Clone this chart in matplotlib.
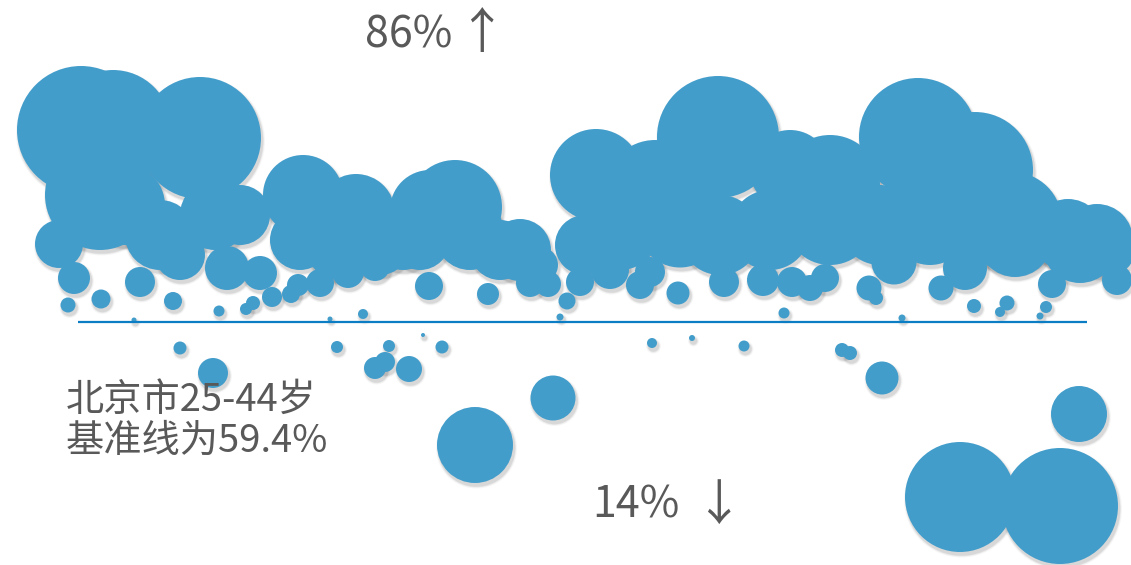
import numpy as np
from matplotlib import pyplot as plt
from matplotlib import transforms

plt.rcParams['font.family'] = ['Noto Sans CJK SC', 'DejaVu Sans']

# 每个气泡: 横向位置, 占比(%), 气泡直径
x_vals = [8.1, 11.3, 20.0, 10.0, 12.5, 16.0, 21.5, 24.0, 5.9, 7.4, 14.0, 18.0, 22.7, 26.0, 27.2,
          6.8, 10.1, 17.3, 21.9, 24.6, 25.3, 13.4,
          30.3, 35.6, 40.3, 43.0, 45.5, 52.0, 54.0, 30.0, 34.0, 38.0, 42.0, 47.0, 50.0,
          29.1, 29.8, 32.0, 34.8, 37.5, 42.9, 48.8, 53.0, 54.8, 36.3, 33.0,
          59.6, 65.5, 71.8, 79.0, 83.0, 91.8, 97.5, 101.2, 106.8, 109.7,
          58.5, 62.0, 68.0, 72.0, 77.0, 83.0, 88.0, 93.0, 96.5, 101.5, 108.0, 111.0,
          58.0, 61.0, 64.0, 65.0, 67.8, 72.4, 76.3, 79.2, 81.0, 82.5, 89.4, 86.9, 87.6,
          94.1, 96.5, 105.2, 111.7, 56.7, 56.0, 78.4, 90.2, 97.4, 100.7, 100.0, 104.6, 104.0,
          18.0, 21.3, 33.7, 37.5, 38.5, 38.9, 40.9, 42.3, 44.2, 47.5, 55.3,
          65.2, 69.2, 74.4, 84.2, 85.0, 88.2, 107.9, 96.0, 106.0]
y_vals = [78.6, 78.8, 77.8, 72.1, 71.1, 68.1, 70.1, 70.1, 67.2, 63.8, 63.4, 66.1, 64.8, 64.3, 61.9,
          61.1, 61.7, 61.5, 60.5, 60.7, 61.3, 59.6,
          72.1, 70.3, 67.9, 70.6, 70.9, 66.6, 65.1, 67.6, 67.1, 67.1, 67.6, 68.1, 66.6,
          62.2, 63.1, 63.3, 64.4, 65.0, 63.0, 62.2, 63.3, 63.2, 60.2, 59.7,
          74.1, 72.6, 77.9, 74.6, 73.1, 77.9, 74.6, 69.4, 68.1, 67.6,
          67.1, 68.6, 69.1, 68.1, 68.6, 69.6, 69.1, 69.1, 68.6, 67.6, 67.1, 66.6,
          63.4, 64.6, 63.1, 64.4, 62.3, 63.4, 63.6, 63.4, 62.8, 63.8, 65.4, 62.8, 61.8,
          62.8, 64.8, 63.2, 63.6, 61.5, 59.9, 60.3, 59.8, 61.0, 61.3, 60.4, 60.9, 60.0,
          56.8, 54.3, 56.9, 54.8, 55.4, 57.0, 54.7, 58.1, 56.9, 47.1, 51.8,
          57.3, 57.8, 57.0, 56.6, 56.3, 53.8, 50.2, 41.9, 41.0]
sizes = [128, 116, 122, 110, 80, 70, 70, 60, 48, 32, 30, 50, 44, 34, 20,
         15, 19, 18, 11, 12, 14, 5,
         80, 78, 66, 80, 94, 62, 36, 60, 70, 60, 60, 70, 60,
         18, 22, 28, 32, 30, 28, 22, 28, 26, 10, 5,
         92, 100, 122, 80, 100, 118, 116, 100, 72, 72,
         60, 80, 85, 80, 80, 90, 80, 80, 70, 74, 76, 50,
         28, 38, 28, 30, 23, 30, 32, 30, 26, 28, 45, 25, 14,
         25, 44, 28, 30, 17, 7, 11, 7, 14, 15, 10, 12, 7,
         13, 30, 12, 22, 20, 12, 26, 4, 13, 76, 45,
         10, 6, 11, 14, 14, 33, 56, 110, 116]

baseline = 59.4

fig = plt.figure(figsize=(11.31, 5.65), dpi=100)
ax = fig.add_axes([0, 0, 1, 1])
ax.set_xlim(0, 113.1)
ax.set_ylim(35.1, 91.6)
ax.axis('off')

d = np.array(sizes, dtype=float)

# 阴影
off = transforms.ScaledTranslation(1.5 / 100, -3 / 100, fig.dpi_scale_trans)
for grow, alpha in [(5, 0.035), (3, 0.05), (1.5, 0.07)]:
    ax.scatter(x_vals, y_vals, s=((d + grow) * 0.72) ** 2, color='black', alpha=alpha,
               linewidths=0, transform=ax.transData + off, zorder=1)

ax.scatter(x_vals, y_vals, s=(d * 0.72) ** 2, color='#439DCB', linewidths=0, zorder=2)

ax.hlines(baseline, 7.8, 108.7, color='#0B7DC4', lw=1.6, zorder=3)

gray = '#595959'
ax.text(36.5, 88.1, '86%', fontsize=31, color=gray, va='center', ha='left')
ax.text(48.1, 88.2, '↑', fontsize=35, color=gray, va='center', ha='center')
ax.text(59.2, 41.1, '14%', fontsize=31, color=gray, va='center', ha='left')
ax.text(71.8, 41.0, '↓', fontsize=35, color=gray, va='center', ha='center')
ax.text(6.6, 49.5, '北京市25-44岁\n基准线为59.4%', fontsize=27.5, color=gray,
        va='center', ha='left', linespacing=1.07)

plt.savefig('out.png', dpi=100)
